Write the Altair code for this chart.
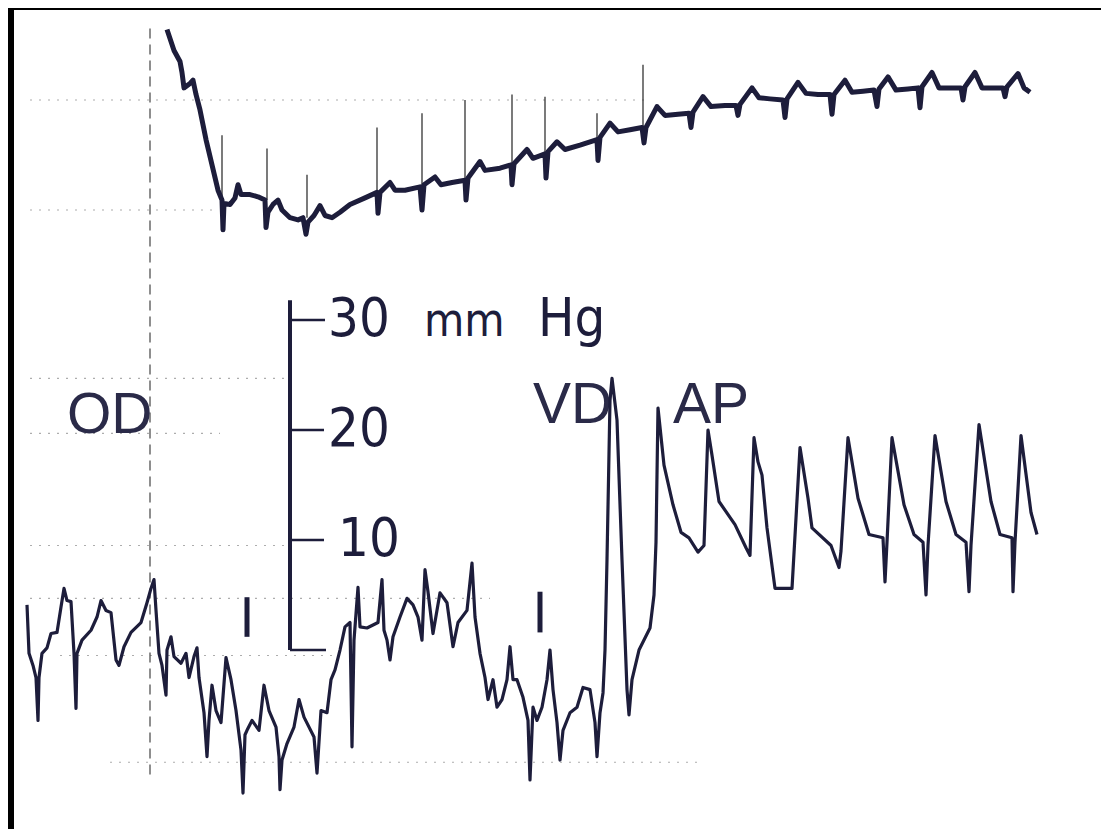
import altair as alt
import pandas as pd

# ---- upper trace (time s, pressure mmHg-equivalent) ----
upper_t = [1.53,1.60,1.66,1.68,1.70,1.76,1.79,1.82,1.86,1.92,1.98,2.04,2.08,2.09,2.10,2.16,2.21,2.24,2.27,2.36,
           2.44,2.51,2.52,2.54,2.59,2.64,2.68,2.76,2.84,2.89,2.92,2.94,3.00,3.06,3.11,3.18,3.26,3.36,3.51,3.63,
           3.64,3.66,3.76,3.81,3.91,4.06,4.08,4.10,4.21,4.27,4.38,4.51,4.52,4.54,4.66,4.71,4.86,4.97,4.98,5.00,
           5.13,5.19,5.31,5.32,5.34,5.43,5.51,5.66,5.83,5.84,5.86,5.96,6.04,6.16,6.28,6.30,6.32,6.43,6.51,6.64,
           6.75,6.77,6.79,6.89,6.97,7.11,7.22,7.24,7.26,7.38,7.45,7.56,7.69,7.71,7.73,7.84,7.92,8.04,8.16,8.18,
           8.20,8.31,8.38,8.49,8.60,8.63,8.65,8.74,8.82,8.94,9.04,9.06,9.08,9.18,9.25,9.36,9.47,9.49,9.51,9.61,
           9.68,9.79,9.89,9.91,9.93,10.04,10.10,10.16]
upper_p = [56.4,54.5,53.5,52.5,51.1,51.5,51.8,50.5,49.1,46.4,44.1,41.8,40.9,38.2,40.6,40.5,41.1,42.3,41.4,41.4,
           41.2,40.9,38.4,39.8,40.5,40.9,40.0,39.3,39.1,39.3,37.8,38.9,39.5,40.4,39.5,39.3,39.8,40.5,41.1,41.6,
           39.7,41.6,42.5,41.8,41.8,42.1,40.0,42.3,43.0,42.3,42.5,42.7,40.9,42.9,44.4,43.6,43.8,44.1,42.3,44.2,
           45.5,44.7,45.1,42.9,45.3,46.2,45.5,45.9,46.4,44.5,46.6,47.9,47.1,47.3,47.5,46.1,47.5,49.4,48.6,48.7,
           48.8,47.5,48.9,50.3,49.4,49.5,49.5,48.6,49.6,51.1,50.2,50.1,50.0,48.4,50.1,51.6,50.6,50.5,50.5,48.7,
           50.5,51.8,50.7,50.8,50.9,49.4,51.0,52.1,50.9,51.0,51.1,49.3,51.2,52.5,51.1,51.1,51.1,50.0,51.2,52.5,
           51.1,51.1,51.1,50.3,51.2,52.4,51.1,50.7]

# ---- lower trace: OD -> VD -> AP (time s, pressure mmHg) ----
lower_t = [0.13,0.15,0.19,0.22,0.24,0.25,0.28,0.33,0.37,0.43,0.47,0.50,0.53,0.57,0.60,0.62,0.63,0.68,0.77,0.83,
           0.87,0.92,0.97,1.02,1.05,1.10,1.17,1.27,1.33,1.37,1.40,1.42,1.45,1.48,1.52,1.53,1.57,1.60,1.67,1.72,
           1.75,1.80,1.83,1.85,1.90,1.93,1.95,1.98,2.02,2.07,2.12,2.17,2.22,2.27,2.29,2.31,2.33,2.38,2.45,2.50,
           2.55,2.62,2.65,2.66,2.68,2.73,2.80,2.85,2.90,3.00,3.03,3.07,3.13,3.17,3.21,3.26,3.31,3.36,3.38,3.40,
           3.44,3.46,3.53,3.64,3.68,3.70,3.73,3.76,3.79,3.86,3.93,3.99,4.04,4.08,4.11,4.14,4.19,4.26,4.33,4.39,
           4.44,4.53,4.58,4.61,4.66,4.71,4.74,4.79,4.83,4.88,4.93,4.96,4.99,5.03,5.09,5.14,5.16,5.19,5.23,5.28,
           5.33,5.36,5.39,5.43,5.46,5.49,5.56,5.63,5.69,5.76,5.81,5.83,5.86,5.89,5.91,5.93,5.96,5.98,6.03,6.08,
           6.13,6.15,6.18,6.25,6.36,6.40,6.42,6.44,6.50,6.59,6.67,6.75,6.84,6.90,6.94,6.98,7.05,7.21,7.32,7.36,
           7.40,7.44,7.48,7.53,7.61,7.78,7.86,7.94,7.98,8.17,8.25,8.27,8.34,8.44,8.55,8.69,8.71,8.73,8.78,8.90,
           9.00,9.09,9.12,9.14,9.21,9.32,9.42,9.52,9.55,9.57,9.65,9.77,9.86,9.98,9.99,10.01,10.07,10.17,10.23]
lower_p = [4.1,-0.3,-1.4,-2.5,-6.4,-2.5,-0.3,0.2,1.5,1.6,3.9,5.6,4.5,4.4,-0.3,-5.3,-0.3,0.9,1.8,3.0,
           4.5,3.6,3.4,-0.9,-1.4,0.3,1.6,2.5,4.3,5.6,6.4,3.6,-0.3,-1.4,-4.1,0.0,1.2,-0.6,-1.2,-0.3,
           -2.5,-0.6,0.2,-2.5,-5.7,-9.7,-6.4,-3.2,-5.5,-6.6,-0.7,-2.7,-5.5,-9.1,-13.0,-7.7,-7.3,-6.4,-7.3,-3.2,
           -5.5,-7.0,-9.7,-12.7,-10.0,-8.5,-7.0,-4.5,-6.1,-7.9,-11.2,-5.5,-5.7,-2.7,-1.8,0.0,2.1,2.5,-8.8,0.9,
           5.7,2.1,2.0,2.5,6.4,1.8,0.9,-0.9,1.2,3.0,4.7,4.1,3.0,0.9,7.3,5.3,1.5,5.2,4.3,0.3,
           2.5,3.6,7.9,3.0,-0.3,-2.5,-4.5,-2.7,-5.2,-4.5,-2.7,0.3,-2.7,-2.7,-4.3,-6.4,-11.8,-5.2,-6.4,-5.2,
           -2.7,0.0,-3.6,-6.6,-10.0,-7.3,-5.7,-5.2,-3.4,-3.6,-6.6,-9.7,-5.7,-3.9,0.0,8.2,22.7,24.7,20.9,8.2,
           -3.6,-5.9,-2.7,0.0,2.0,5.0,9.8,22.0,16.8,13.2,10.7,10.2,8.9,9.5,20.0,17.7,13.5,11.4,9.3,8.6,
           19.3,17.1,15.9,11.1,5.6,5.6,18.4,13.8,11.1,9.5,7.5,9.0,19.3,13.8,10.5,10.2,6.2,9.8,19.3,13.2,
           10.5,9.8,5.0,9.5,19.5,13.5,10.5,9.8,5.3,9.5,20.5,13.5,10.5,10.2,5.3,9.8,19.5,12.5,10.5]

# ---- calibration bar (mmHg) ----
scale_ticks = [0, 10, 20, 30]
scale_labels = ["10", "20", "30", "Hg"]
scale_label_t = [3.24, 3.14, 3.14, 5.24]
scale_label_p = [10, 20, 30, 30]
unit_small = ["mm"]
unit_small_t = [4.10]
unit_small_p = [29.8]

# ---- trace labels ----
trace_labels = ["OD", "VD", "AP"]
trace_label_t = [0.53, 5.19, 6.59]
trace_label_p = [19.7, 20.6, 20.6]

# ---- paper time markers on upper trace ----
marker_t = [2.08, 2.53, 2.93, 3.63, 4.08, 4.51, 4.98, 5.31, 5.83, 6.29]
marker_top = [46.8, 45.6, 43.2, 47.5, 48.8, 50.0, 50.5, 50.3, 48.8, 53.2]
marker_bot = [40.9, 40.9, 39.3, 41.6, 42.1, 42.7, 44.1, 45.1, 46.4, 47.5]

# ---- event marks "I" on lower trace ----
event_t = [2.33, 5.26]
event_top = [4.8, 5.3]
event_bot = [1.2, 1.6]

# ---- faint paper grid (dotted) ----
grid_p = [50.0, 40.0, 24.7, 19.7, 9.5, 4.7, -0.5, -10.2]
grid_t1 = [0.16, 0.16, 0.16, 0.16, 0.16, 0.16, 0.46, 0.96]
grid_t2 = [6.36, 2.0, 2.76, 2.06, 2.76, 4.76, 3.26, 6.86]

INK = "#1d1d3b"
SCALE_FONT = "DejaVu Sans Condensed, DejaVu Sans"
xs = alt.Scale(domain=[0, 10.87], nice=False, zero=False)
ys = alt.Scale(domain=[-16.27, 58.18], nice=False, zero=False)

upper_df = pd.DataFrame({"t": upper_t, "p": upper_p, "i": range(len(upper_t))})
lower_df = pd.DataFrame({"t": lower_t, "p": lower_p, "i": range(len(lower_t))})

upper = alt.Chart(upper_df).mark_line(color=INK, strokeWidth=5, strokeJoin="round").encode(
    x=alt.X("t:Q", scale=xs, axis=None), y=alt.Y("p:Q", scale=ys, axis=None), order="i:Q")
lower = alt.Chart(lower_df).mark_line(color=INK, strokeWidth=3.2, strokeJoin="round").encode(
    x=alt.X("t:Q", scale=xs, axis=None), y=alt.Y("p:Q", scale=ys, axis=None), order="i:Q")

grid_df = pd.DataFrame({"p": grid_p, "t1": grid_t1, "t2": grid_t2})
grid = alt.Chart(grid_df).mark_rule(color="#777", strokeWidth=1.2, strokeDash=[2, 7], opacity=0.6).encode(
    x=alt.X("t1:Q", scale=xs, axis=None), x2="t2:Q", y=alt.Y("p:Q", scale=ys, axis=None))

vdash_df = pd.DataFrame({"t": [1.36], "p1": [56.5], "p2": [-11.8]})
vdash = alt.Chart(vdash_df).mark_rule(color="#444", strokeWidth=1.5, strokeDash=[10, 6], opacity=0.8).encode(
    x=alt.X("t:Q", scale=xs, axis=None), y=alt.Y("p1:Q", scale=ys, axis=None), y2="p2:Q")

mk_df = pd.DataFrame({"t": marker_t, "p1": marker_top, "p2": marker_bot})
markers = alt.Chart(mk_df).mark_rule(color="#333", strokeWidth=1.3).encode(
    x=alt.X("t:Q", scale=xs, axis=None), y=alt.Y("p1:Q", scale=ys, axis=None), y2="p2:Q")

ev_df = pd.DataFrame({"t": event_t, "p1": event_top, "p2": event_bot})
events = alt.Chart(ev_df).mark_rule(color=INK, strokeWidth=5).encode(
    x=alt.X("t:Q", scale=xs, axis=None), y=alt.Y("p1:Q", scale=ys, axis=None), y2="p2:Q")

# calibration bar
bar_df = pd.DataFrame({"t": [2.76], "p1": [31.8], "p2": [0]})
bar = alt.Chart(bar_df).mark_rule(color=INK, strokeWidth=4).encode(
    x=alt.X("t:Q", scale=xs, axis=None), y=alt.Y("p1:Q", scale=ys, axis=None), y2="p2:Q")
tick_df = pd.DataFrame({"p": scale_ticks, "t1": [2.76] * 4, "t2": [3.12, 3.10, 3.10, 3.11]})
ticks = alt.Chart(tick_df).mark_rule(color=INK, strokeWidth=2.5).encode(
    x=alt.X("t1:Q", scale=xs, axis=None), x2="t2:Q", y=alt.Y("p:Q", scale=ys, axis=None))

lab_df = pd.DataFrame({"txt": scale_labels, "t": scale_label_t, "p": scale_label_p})
labels = alt.Chart(lab_df).mark_text(align="left", baseline="middle", color=INK, fontSize=54,
                                     font=SCALE_FONT).encode(
    x=alt.X("t:Q", scale=xs, axis=None), y=alt.Y("p:Q", scale=ys, axis=None), text="txt:N")
mm_df = pd.DataFrame({"txt": unit_small, "t": unit_small_t, "p": unit_small_p})
mm_label = alt.Chart(mm_df).mark_text(align="left", baseline="middle", color=INK, fontSize=46,
                                      font=SCALE_FONT).encode(
    x=alt.X("t:Q", scale=xs, axis=None), y=alt.Y("p:Q", scale=ys, axis=None), text="txt:N")

tl_df = pd.DataFrame({"txt": trace_labels, "t": trace_label_t, "p": trace_label_p})
tlabels = alt.Chart(tl_df).mark_text(align="left", baseline="alphabetic", color="#2a2a48", fontSize=57,
                                     font="Liberation Sans, Arial, sans-serif").encode(
    x=alt.X("t:Q", scale=xs, axis=None), y=alt.Y("p:Q", scale=ys, axis=None), text="txt:N")

chart = alt.layer(grid, vdash, markers, events, bar, ticks, labels, mm_label, tlabels, upper, lower).properties(
    width=1087, height=819,
    padding={"left": 6, "top": 2, "right": 0, "bottom": 0},
    autosize=alt.AutoSizeParams(type="none"),
    background="#000000",
).configure_view(fill="white", stroke=None)

chart.save("out.html", embed_options={"renderer": "svg", "actions": False})
